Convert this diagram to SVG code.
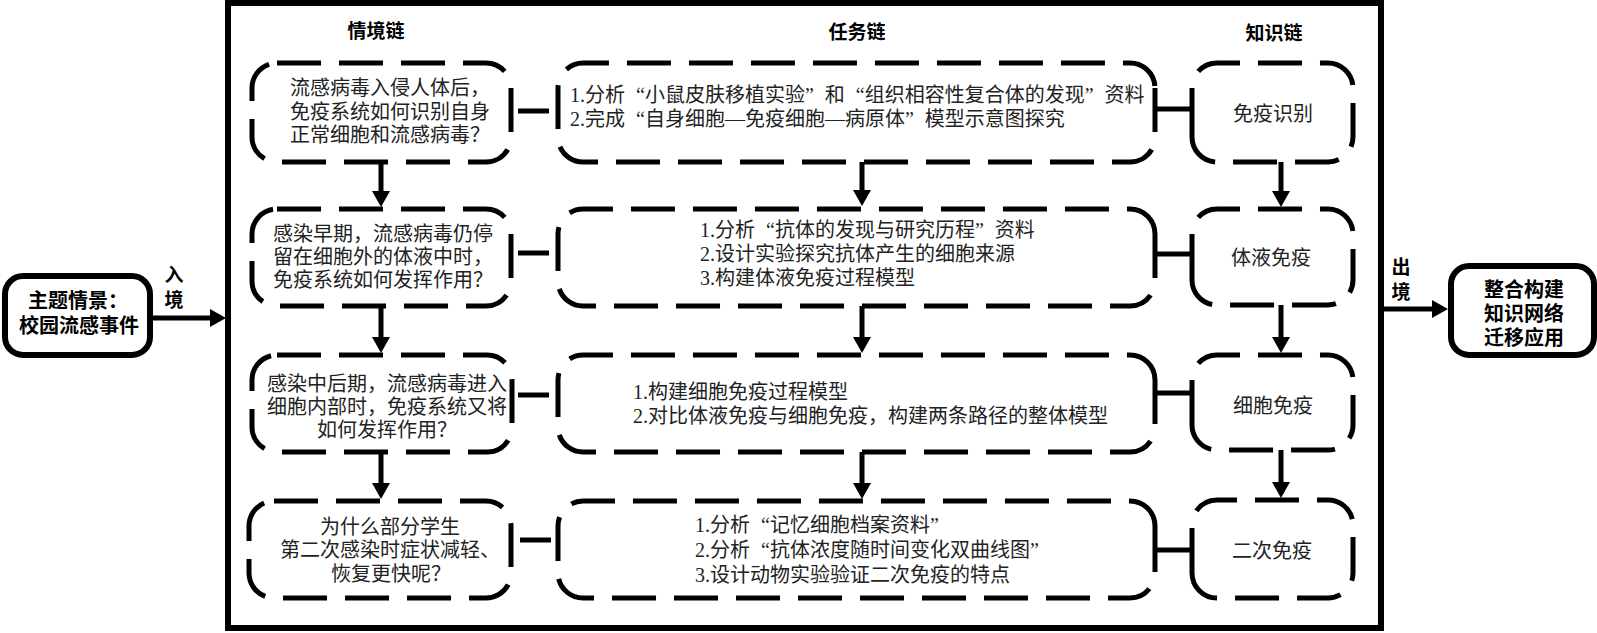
<svg xmlns="http://www.w3.org/2000/svg" width="1597" height="633" viewBox="0 0 1597 633">
<style>
.frame{fill:none;stroke:#000;stroke-width:6}
.dbox{fill:none;stroke:#000;stroke-width:5;stroke-dasharray:44 18}
.sbox{fill:#fff;stroke:#000;stroke-width:6}
.link{stroke:#000;stroke-width:5;fill:none}
.arr{stroke:#000;stroke-width:5;fill:none;marker-end:url(#ah)}
.t{font-family:"Liberation Serif","Noto Sans CJK SC",serif;font-size:20px;fill:#222}
.m{text-anchor:middle}
.h{font-family:"Liberation Sans","Noto Sans CJK SC",sans-serif;font-size:19px;font-weight:bold;fill:#000;text-anchor:middle}
.b{font-size:20px}
</style>
<defs>
<marker id="ah" markerUnits="userSpaceOnUse" markerWidth="16" markerHeight="18" refX="8" refY="9" orient="auto"><path d="M0,0 L16,9 L0,18 Z" fill="#000"/></marker>
</defs>
<rect width="1597" height="633" fill="#fff"/>
<rect id="frame" class="frame" x="228" y="3" width="1153" height="625"/>
<g id="headers">
<text class="h" x="376" y="38">情境链</text>
<text class="h" x="857" y="39">任务链</text>
<text class="h" x="1274" y="40">知识链</text>
</g>
<g id="start">
<rect class="sbox" x="5" y="276" width="145" height="79" rx="18"/>
<text class="h b" x="78" y="308">主题情景：</text>
<text class="h b" x="79" y="333">校园流感事件</text>
</g>
<g id="end">
<rect class="sbox" x="1451" y="266" width="143" height="89" rx="18"/>
<text class="h b" x="1524" y="297">整合构建</text>
<text class="h b" x="1524" y="321">知识网络</text>
<text class="h b" x="1524" y="345">迁移应用</text>
</g>
<g id="s1">
<rect class="dbox" x="252" y="63" width="259" height="99" rx="25"/>
<text class="t m" x="390" y="95">流感病毒入侵人体后，</text>
<text class="t m" x="390" y="119">免疫系统如何识别自身</text>
<text class="t m" x="390" y="142">正常细胞和流感病毒？</text>
</g>
<g id="s2">
<rect class="dbox" x="252" y="209" width="259" height="97" rx="25"/>
<text class="t m" x="383" y="241">感染早期，流感病毒仍停</text>
<text class="t m" x="383" y="264">留在细胞外的体液中时，</text>
<text class="t m" x="383" y="287">免疫系统如何发挥作用？</text>
</g>
<g id="s3">
<rect class="dbox" x="252" y="355" width="260" height="97" rx="25"/>
<text class="t m" x="387" y="391">感染中后期，流感病毒进入</text>
<text class="t m" x="387" y="414">细胞内部时，免疫系统又将</text>
<text class="t m" x="387" y="437">如何发挥作用？</text>
</g>
<g id="s4">
<rect class="dbox" x="249" y="501" width="262" height="97" rx="25"/>
<text class="t m" x="390" y="534">为什么部分学生</text>
<text class="t m" x="390" y="557">第二次感染时症状减轻、</text>
<text class="t m" x="391" y="581">恢复更快呢？</text>
</g>
<g id="t1">
<path class="dbox" d="M1155,88 V137 A25,25 0 0 1 1130,162 H583 A25,25 0 0 1 558,137 V88 A25,25 0 0 1 583,63 H1130 A25,25 0 0 1 1155,88 Z"/>
<text class="t" x="570" y="102">1.分析<tspan dx="11">“</tspan>小鼠皮肤移植实验”<tspan dx="11">和</tspan><tspan dx="11">“</tspan>组织相容性复合体的发现”<tspan dx="11">资料</tspan></text>
<text class="t" x="570" y="126">2.完成<tspan dx="11">“</tspan>自身细胞—免疫细胞—病原体”<tspan dx="11">模型示意图探究</tspan></text>
</g>
<g id="t2">
<path class="dbox" d="M1155,234 V281 A25,25 0 0 1 1130,306 H583 A25,25 0 0 1 558,281 V234 A25,25 0 0 1 583,209 H1130 A25,25 0 0 1 1155,234 Z"/>
<text class="t" x="700" y="237">1.分析<tspan dx="11">“</tspan>抗体的发现与研究历程”<tspan dx="11">资料</tspan></text>
<text class="t" x="700" y="261">2.设计实验探究抗体产生的细胞来源</text>
<text class="t" x="700" y="285">3.构建体液免疫过程模型</text>
</g>
<g id="t3">
<path class="dbox" d="M1155,380 V427 A25,25 0 0 1 1130,452 H583 A25,25 0 0 1 558,427 V380 A25,25 0 0 1 583,355 H1130 A25,25 0 0 1 1155,380 Z"/>
<text class="t" x="633" y="399">1.构建细胞免疫过程模型</text>
<text class="t" x="633" y="423">2.对比体液免疫与细胞免疫，构建两条路径的整体模型</text>
</g>
<g id="t4">
<path class="dbox" d="M1155,528 V573 A25,25 0 0 1 1130,598 H583 A25,25 0 0 1 558,573 V526 A25,25 0 0 1 583,501 H1130 A25,25 0 0 1 1155,526 Z"/>
<text class="t" x="695" y="532">1.分析<tspan dx="11">“</tspan>记忆细胞档案资料”</text>
<text class="t" x="695" y="557">2.分析<tspan dx="11">“</tspan>抗体浓度随时间变化双曲线图”</text>
<text class="t" x="695" y="582">3.设计动物实验验证二次免疫的特点</text>
</g>
<g id="k1">
<path class="dbox" d="M1192,132 V88 A25,25 0 0 1 1217,63 H1328 A25,25 0 0 1 1353,88 V137 A25,25 0 0 1 1328,162 H1217 A25,25 0 0 1 1192,137 Z"/>
<text class="t m" x="1273" y="121">免疫识别</text>
</g>
<g id="k2">
<path class="dbox" d="M1192,278 V234 A25,25 0 0 1 1217,209 H1328 A25,25 0 0 1 1353,234 V280 A25,25 0 0 1 1328,305 H1217 A25,25 0 0 1 1192,280 Z"/>
<text class="t m" x="1271" y="265">体液免疫</text>
</g>
<g id="k3">
<path class="dbox" d="M1192,424 V380 A25,25 0 0 1 1217,355 H1328 A25,25 0 0 1 1353,380 V425 A25,25 0 0 1 1328,450 H1217 A25,25 0 0 1 1192,425 Z"/>
<text class="t m" x="1273" y="413">细胞免疫</text>
</g>
<g id="k4">
<path class="dbox" d="M1192,572 V525 A25,25 0 0 1 1217,500 H1328 A25,25 0 0 1 1353,525 V573 A25,25 0 0 1 1328,598 H1217 A25,25 0 0 1 1192,573 Z"/>
<text class="t m" x="1272" y="558">二次免疫</text>
</g>
<g id="connectors">
<line class="arr" x1="153" y1="318" x2="218" y2="318"/>
<text class="h" x="174" y="282">入</text>
<text class="h" x="174" y="307">境</text>
<line class="arr" x1="1384" y1="309" x2="1440" y2="309"/>
<text class="h" x="1401" y="274">出</text>
<text class="h" x="1401" y="299">境</text>
<line class="arr" x1="381" y1="162" x2="381" y2="199"/>
<line class="arr" x1="381" y1="306" x2="381" y2="345"/>
<line class="arr" x1="381" y1="452" x2="381" y2="491"/>
<line class="arr" x1="862" y1="162" x2="862" y2="198"/>
<line class="arr" x1="862" y1="306" x2="862" y2="345"/>
<line class="arr" x1="862" y1="452" x2="862" y2="491"/>
<line class="arr" x1="1281" y1="162" x2="1281" y2="199"/>
<line class="arr" x1="1281" y1="305" x2="1281" y2="345"/>
<line class="arr" x1="1281" y1="450" x2="1281" y2="490"/>
<line class="link" x1="518" y1="111" x2="549" y2="111"/>
<line class="link" x1="518" y1="253" x2="549" y2="253"/>
<line class="link" x1="518" y1="395" x2="549" y2="395"/>
<line class="link" x1="520" y1="540" x2="551" y2="540"/>
<line class="link" x1="1155" y1="109" x2="1192" y2="109"/>
<line class="link" x1="1155" y1="254" x2="1192" y2="254"/>
<line class="link" x1="1155" y1="393" x2="1192" y2="393"/>
<line class="link" x1="1155" y1="550" x2="1192" y2="550"/>
</g>
</svg>
